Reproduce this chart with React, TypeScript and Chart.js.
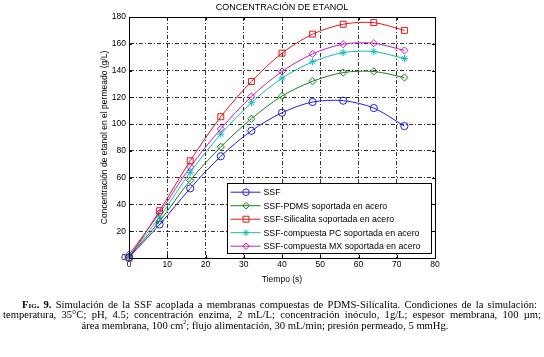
import React, { useEffect, useRef } from "react";
import { Chart, registerables } from "chart.js";

Chart.register(...registerables);

const tiempo = [0, 8, 16, 24, 32, 40, 48, 56, 64, 72];
const ssf = [0.5, 25, 52, 76, 95, 108.5, 116.5, 117.5, 112, 98.5];
const pdms = [1, 27.5, 58, 83, 104, 121, 132, 138.5, 139.3, 134.8];
const silicalita = [0, 35.3, 72.6, 105.5, 131.8, 153, 167.2, 174.6, 175.8, 170];
const compuestaPC = [1.5, 30.6, 64, 92.5, 116, 134.3, 146.5, 153.4, 154.2, 149];
const compuestaMX = [2.5, 33.6, 68, 96.5, 120.6, 139.3, 152.5, 159.7, 160.4, 155];

const seriesNames = [
  "SSF",
  "SSF-PDMS soportada en acero",
  "SSF-Silicalita soportada en acero",
  "SSF-compuesta PC soportada en acero",
  "SSF-compuesta MX soportada en acero",
];
const seriesColors = ["#1f1fe0", "#1a801a", "#e01818", "#18b8b8", "#c020c0"];
const seriesMarkers = ["circle", "rectRot", "rect", "star", "rectRot"];

const xTicks = [0, 10, 20, 30, 40, 50, 60, 70, 80];
const yTicks = [0, 20, 40, 60, 80, 100, 120, 140, 160, 180];

const chartTitle = "CONCENTRACIÓN DE ETANOL";
const xTitle = "Tiempo (s)";
const yTitle = "Concentración de etanol en el permeado (g/L)";

const FONT = '"Liberation Sans", Arial, sans-serif';

function drawMarker(ctx: CanvasRenderingContext2D, kind: string, x: number, y: number, r: number) {
  ctx.beginPath();
  if (kind === "circle") {
    ctx.arc(x, y, r, 0, Math.PI * 2);
  } else if (kind === "rect") {
    const s = r * 0.9;
    ctx.rect(x - s, y - s, 2 * s, 2 * s);
  } else if (kind === "rectRot") {
    ctx.moveTo(x, y - r);
    ctx.lineTo(x + r, y);
    ctx.lineTo(x, y + r);
    ctx.lineTo(x - r, y);
    ctx.closePath();
  } else if (kind === "star") {
    ctx.moveTo(x - r, y);
    ctx.lineTo(x + r, y);
    ctx.moveTo(x, y - r);
    ctx.lineTo(x, y + r);
    const d = r * 0.707;
    ctx.moveTo(x - d, y - d);
    ctx.lineTo(x + d, y + d);
    ctx.moveTo(x - d, y + d);
    ctx.lineTo(x + d, y - d);
  }
  ctx.stroke();
}

const overlayPlugin = {
  id: "overlay",
  afterDraw(chart: any) {
    const { ctx, chartArea: a } = chart;
    const xs = chart.scales.x;
    const ys = chart.scales.y;
    ctx.save();
    ctx.setLineDash([]);
    ctx.strokeStyle = "#000";
    ctx.lineWidth = 1;
    ctx.beginPath();
    for (const v of xTicks) {
      const px = Math.round(xs.getPixelForValue(v)) + 0.5;
      ctx.moveTo(px, a.bottom);
      ctx.lineTo(px, a.bottom - 3);
      ctx.moveTo(px, a.top);
      ctx.lineTo(px, a.top + 3);
    }
    for (const v of yTicks) {
      const py = Math.round(ys.getPixelForValue(v)) + 0.5;
      ctx.moveTo(a.left, py);
      ctx.lineTo(a.left + 3, py);
      ctx.moveTo(a.right, py);
      ctx.lineTo(a.right - 3, py);
    }
    ctx.stroke();
    ctx.strokeRect(Math.round(a.left) + 0.5, Math.round(a.top) + 0.5, Math.round(a.right - a.left), Math.round(a.bottom - a.top));

    ctx.fillStyle = "#000";
    ctx.textAlign = "center";
    ctx.textBaseline = "middle";
    ctx.font = `9px ${FONT}`;
    ctx.fillText(chartTitle, (a.left + a.right) / 2, 7.5);
    ctx.font = `8.5px ${FONT}`;
    ctx.fillText(xTitle, (a.left + a.right) / 2, 279.5);
    ctx.save();
    ctx.translate(105, (a.top + a.bottom) / 2);
    ctx.rotate(-Math.PI / 2);
    ctx.fillText(yTitle, 0, 0);
    ctx.restore();

    const lw = 204;
    const lh = 70;
    const lx = Math.round(a.right - 4 - lw) + 0.5;
    const ly = Math.round(a.bottom - 5 - lh) + 0.5;
    ctx.fillStyle = "#fff";
    ctx.fillRect(lx, ly, lw, lh);
    ctx.strokeStyle = "#000";
    ctx.lineWidth = 1;
    ctx.strokeRect(lx, ly, lw, lh);
    ctx.font = `8.8px ${FONT}`;
    ctx.textAlign = "left";
    for (let i = 0; i < seriesNames.length; i++) {
      const cy = ly + 8.7 + i * 13.5;
      ctx.strokeStyle = seriesColors[i];
      ctx.lineWidth = 1;
      ctx.beginPath();
      ctx.moveTo(lx + 3, cy);
      ctx.lineTo(lx + 33, cy);
      ctx.stroke();
      drawMarker(ctx, seriesMarkers[i], lx + 18.5, cy, 3.3);
      ctx.fillStyle = "#000";
      ctx.fillText(seriesNames[i], lx + 36, cy + 0.5);
    }
    ctx.restore();
  },
};

export default function App() {
  const ref = useRef<HTMLCanvasElement | null>(null);
  useEffect(() => {
    if (!ref.current) return;
    const allSeries = [ssf, pdms, silicalita, compuestaPC, compuestaMX];
    const chart = new Chart(ref.current, {
      type: "line",
      data: {
        datasets: allSeries.map((vals, i) => ({
          label: seriesNames[i],
          data: tiempo.map((t, j) => ({ x: t, y: vals[j] })),
          borderColor: seriesColors[i],
          backgroundColor: "rgba(0,0,0,0)",
          borderWidth: 1,
          pointStyle: seriesMarkers[i] as any,
          pointRadius: seriesMarkers[i] === "rect" ? 4.2 : 3.6,
          pointBorderWidth: 1,
          pointBorderColor: seriesColors[i],
          pointBackgroundColor: "rgba(0,0,0,0)",
          tension: 0.3,
          fill: false,
          clip: false as any,
        })),
      },
      options: {
        animation: false,
        responsive: false,
        maintainAspectRatio: false,
        devicePixelRatio: 1,
        layout: { padding: { left: 0, right: 109, top: 17, bottom: 0 } },
        plugins: {
          legend: { display: false },
          title: { display: false },
          tooltip: { enabled: false },
        },
        scales: {
          x: {
            type: "linear",
            min: 0,
            max: 80,
            afterFit: (s: any) => {
              s.height = 99;
            },
            afterBuildTicks: (s: any) => {
              s.ticks = xTicks.map((v) => ({ value: v }));
            },
            ticks: {
              color: "#000",
              font: { family: FONT, size: 8.5 },
              padding: 2,
              maxRotation: 0,
            },
            grid: { color: "#000", lineWidth: 0.8, drawTicks: false },
            border: { display: true, color: "#000", width: 1, dash: [4, 2, 1, 2] },
            title: { display: false },
          },
          y: {
            type: "linear",
            min: 0,
            max: 180,
            afterFit: (s: any) => {
              s.width = 129;
            },
            afterBuildTicks: (s: any) => {
              s.ticks = yTicks.map((v) => ({ value: v }));
            },
            ticks: {
              color: "#000",
              font: { family: FONT, size: 8.5 },
              padding: 3,
            },
            grid: { color: "#000", lineWidth: 0.8, drawTicks: false },
            border: { display: true, color: "#000", width: 1, dash: [4, 2, 1, 2] },
            title: { display: false },
          },
        },
      },
      plugins: [overlayPlugin],
    });
    return () => chart.destroy();
  }, []);

  const base: React.CSSProperties = {
    position: "absolute",
    fontFamily: '"Liberation Serif", "Times New Roman", serif',
    fontSize: "10.6px",
    lineHeight: "10.4px",
    height: "10.4px",
    color: "#000",
    whiteSpace: "nowrap",
  };
  const justified: React.CSSProperties = {
    ...base,
    whiteSpace: "normal",
    textAlign: "justify",
    textAlignLast: "justify" as any,
    overflow: "visible",
  };

  return (
    <div style={{ position: "fixed", left: 0, top: 0, width: 544, height: 357, background: "#fff" }}>
      <canvas ref={ref} width={544} height={357} style={{ position: "absolute", left: 0, top: 0, width: 544, height: 357 }} />
      <div style={{ ...justified, left: 22, top: 299.8, width: 515 }}>
        <b style={{ fontVariant: "small-caps" }}>Fig. 9.</b> Simulación de la SSF acoplada a membranas compuestas de PDMS-Silicalita. Condiciones de la simulación:
      </div>
      <div style={{ ...justified, left: 3, top: 310.2, width: 538 }}>
        temperatura, 35°C; pH, 4.5; concentración enzima, 2 mL/L; concentración inóculo, 1g/L; espesor membrana, 100 µm;
      </div>
      <div style={{ ...base, left: 0, top: 320.6, width: 530, textAlign: "center" }}>
        área membrana, 100 cm<sup style={{ fontSize: "6px", lineHeight: 0 }}>2</sup>; flujo alimentación, 30 mL/min; presión permeado, 5 mmHg.
      </div>
    </div>
  );
}
